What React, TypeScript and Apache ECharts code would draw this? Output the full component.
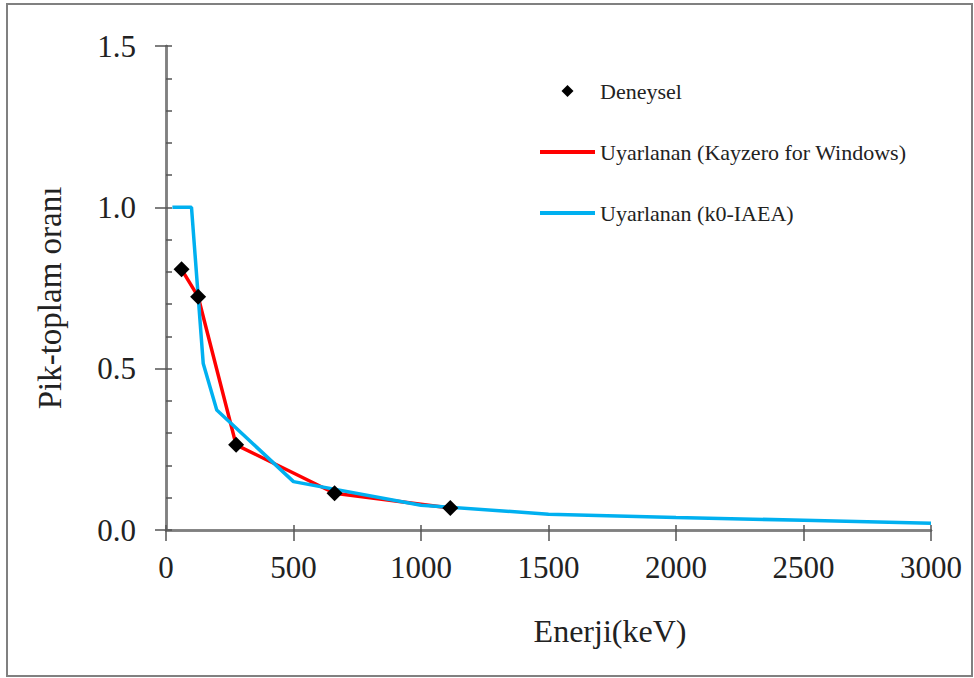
import React, { useEffect, useRef } from "react";
import * as echarts from "echarts";

// Deneysel (experimental) points: energy keV, peak-to-total ratio
const expEnergy = [61, 126, 275, 661, 1115];
const expRatio = [0.808, 0.723, 0.264, 0.114, 0.068];

// Uyarlanan (Kayzero for Windows)
const kwEnergy = [61, 126, 275, 661, 1115];
const kwRatio = [0.808, 0.723, 0.264, 0.114, 0.068];

// Uyarlanan (k0-IAEA)
const iaeaEnergy = [25, 100, 146, 199, 500, 1000, 1500, 2000, 2500, 3000];
const iaeaRatio = [1.0, 1.0, 0.516, 0.372, 0.15, 0.077, 0.049, 0.039, 0.03, 0.021];

const xTicks = [0, 500, 1000, 1500, 2000, 2500, 3000];
const yTicks = [0, 0.5, 1.0, 1.5];

const NAME_EXP = "Deneysel";
const NAME_KW = "Uyarlanan (Kayzero for Windows)";
const NAME_IAEA = "Uyarlanan (k0-IAEA)";

const FONT = "'Liberation Serif', 'DejaVu Serif', serif";
const AXIS_COLOR = "#808080";
const TEXT_COLOR = "#222222";

export default function App() {
  const ref = useRef<HTMLDivElement>(null);

  useEffect(() => {
    document.body.style.margin = "0";
    if (!ref.current) return;
    const chart = echarts.init(ref.current, undefined, { renderer: "svg" });
    const gridPos = { left: 166, right: 43, top: 46, bottom: 148 };
    const xMin = xTicks[0];
    const xMax = xTicks[xTicks.length - 1];
    const yMin = yTicks[0];
    const yMax = yTicks[yTicks.length - 1];
    const axisLine = { show: true, lineStyle: { color: AXIS_COLOR, width: 2.5 } };

    chart.setOption({
      animation: false,
      backgroundColor: "#ffffff",
      textStyle: { fontFamily: FONT },
      grid: [
        { ...gridPos },
        { ...gridPos },
      ],
      xAxis: [
        {
          type: "value",
          gridIndex: 0,
          min: xMin,
          max: xMax,
          interval: 500,
          axisLine,
          axisTick: { show: true, inside: false, length: 11, lineStyle: { color: "#555", width: 1.5 } },
          axisLabel: {
            show: true,
            margin: 22,
            fontSize: 31,
            color: TEXT_COLOR,
            fontFamily: FONT,
            formatter: (v: number) => String(v),
          },
          splitLine: { show: false },
        },
        {
          type: "value",
          gridIndex: 1,
          min: xMin,
          max: xMax,
          interval: 500,
          axisLine,
          axisTick: { show: true, inside: true, length: 5, lineStyle: { color: "#555", width: 1.5 } },
          axisLabel: { show: false },
          splitLine: { show: false },
        },
      ],
      yAxis: [
        {
          type: "value",
          gridIndex: 0,
          min: yMin,
          max: yMax,
          interval: 0.5,
          axisLine,
          axisTick: { show: true, inside: false, length: 11, lineStyle: { color: "#555", width: 1.5 } },
          axisLabel: {
            show: true,
            margin: 30,
            fontSize: 31,
            color: TEXT_COLOR,
            fontFamily: FONT,
            formatter: (v: number) => v.toFixed(1),
          },
          splitLine: { show: false },
        },
        {
          type: "value",
          gridIndex: 1,
          min: yMin,
          max: yMax,
          interval: 0.5,
          axisLine,
          axisTick: { show: true, inside: true, length: 6, lineStyle: { color: "#555", width: 1.5 } },
          minorTick: { show: true, splitNumber: 5, length: 6, lineStyle: { color: "#555", width: 1.5 } },
          axisLabel: { show: false },
          splitLine: { show: false },
          minorSplitLine: { show: false },
        },
      ],
      legend: {
        orient: "vertical",
        left: 535,
        top: 75,
        itemWidth: 55,
        itemHeight: 12,
        itemGap: 39,
        textStyle: { fontSize: 22, color: TEXT_COLOR, fontFamily: FONT },
        data: [
          { name: NAME_EXP, icon: "path://M6,0 L12,6 L6,12 L0,6 Z", itemStyle: { opacity: 1, color: "#000" } },
          { name: NAME_KW, icon: "path://M0,0 H55 V4 H0 Z" },
          { name: NAME_IAEA, icon: "path://M0,0 H55 V4 H0 Z" },
        ],
      },
      series: [
        {
          name: NAME_KW,
          type: "line",
          xAxisIndex: 0,
          yAxisIndex: 0,
          data: kwEnergy.map((e, i) => [e, kwRatio[i]]),
          symbol: "none",
          lineStyle: { color: "#ff0000", width: 3.5 },
          itemStyle: { color: "#ff0000" },
          z: 2,
        },
        {
          name: NAME_IAEA,
          type: "line",
          xAxisIndex: 0,
          yAxisIndex: 0,
          data: iaeaEnergy.map((e, i) => [e, iaeaRatio[i]]),
          symbol: "none",
          lineStyle: { color: "#00b0f0", width: 3.5 },
          itemStyle: { color: "#00b0f0" },
          z: 3,
        },
        {
          name: NAME_EXP,
          type: "scatter",
          xAxisIndex: 0,
          yAxisIndex: 0,
          data: expEnergy.map((e, i) => [e, expRatio[i]]),
          symbol: "diamond",
          symbolSize: 16,
          itemStyle: { color: "#000000", opacity: 1 },
          z: 5,
        },
      ],
      graphic: [
        {
          type: "rect",
          shape: { x: 7, y: 4, width: 965, height: 672 },
          style: { fill: "none", stroke: AXIS_COLOR, lineWidth: 2 },
          silent: true,
          z: -1,
        },
        {
          type: "text",
          x: 610,
          y: 631,
          style: {
            text: "Enerji(keV)",
            fontSize: 32,
            fontFamily: FONT,
            fill: TEXT_COLOR,
            align: "center",
            verticalAlign: "middle",
          },
        },
        {
          type: "text",
          x: 50,
          y: 298,
          rotation: Math.PI / 2,
          style: {
            text: "Pik-toplam oranı",
            fontSize: 33,
            fontFamily: FONT,
            fill: TEXT_COLOR,
            align: "center",
            verticalAlign: "middle",
          },
        },
      ],
    });
    return () => chart.dispose();
  }, []);

  return <div ref={ref} style={{ width: 974, height: 678 }} />;
}
